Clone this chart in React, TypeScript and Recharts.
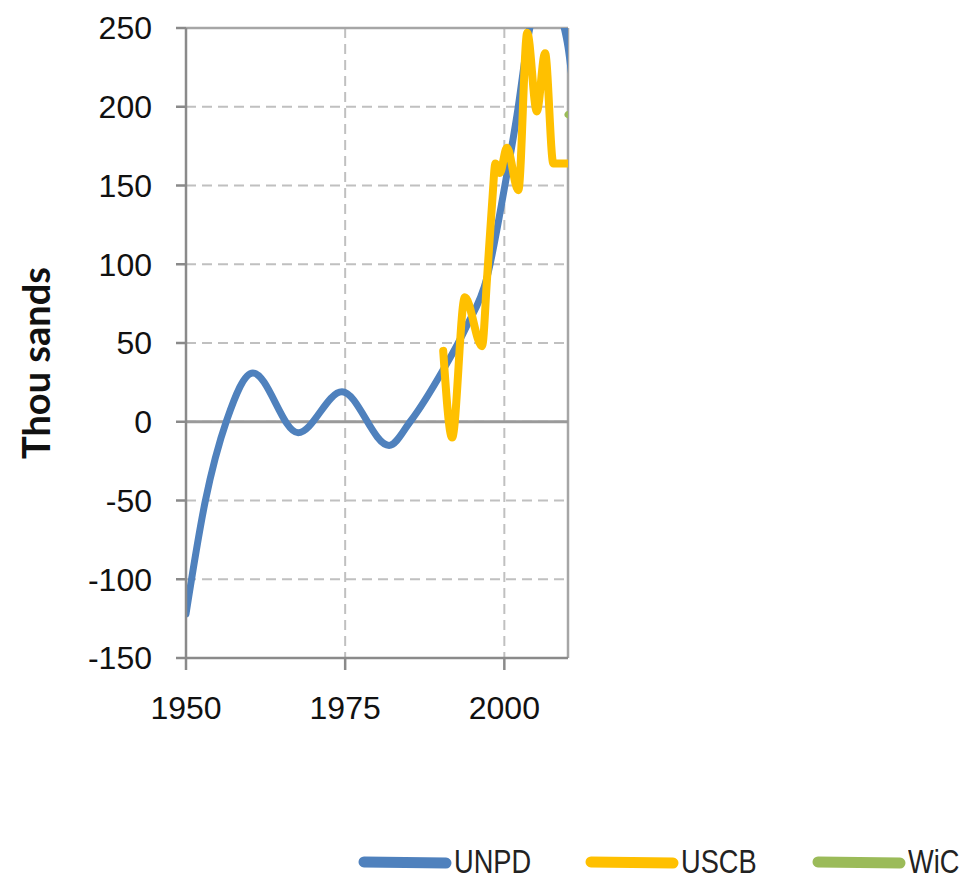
import { LineChart, Line, XAxis, YAxis, CartesianGrid, ReferenceLine } from 'recharts';

const unpdYears = [1950, 1953, 1956.4, 1960.5, 1967.6, 1974.5, 1981.9, 1985.2, 1990.4, 1994, 1997.3, 2000, 2002, 2004, 2006.6, 2009.3, 2010, 2011];
const unpdValues = [-122, -51, 1, 31, -7, 19, -15, 0, 33, 60, 92, 148, 195, 250, 280, 252, 238, 205];

const uscbYears = [1990.4, 1991.8, 1993.8, 1996.5, 1997.3, 1998.1, 1998.6, 1999.3, 2000.4, 2002.2, 2003.6, 2005.1, 2006.4, 2007.7, 2010];
const uscbValues = [45, -10, 79, 48, 92, 140, 164, 158, 174, 147, 247, 197, 234, 164, 164];

const wicYears = [2010, 2011];
const wicValues = [195, 193];

const xTicks = [1950, 1975, 2000];
const yTicks = [-150, -100, -50, 0, 50, 100, 150, 200, 250];

const series = [
  { key: 'UNPD', color: '#4F81BD', width: 7, years: unpdYears, values: unpdValues },
  { key: 'USCB', color: '#FFC000', width: 8, years: uscbYears, values: uscbValues },
  { key: 'WiC', color: '#9BBB59', width: 7, years: wicYears, values: wicValues },
];

const toRows = (years: number[], values: number[]) =>
  years.map((year, i) => ({ year, value: values[i] }));

const tickStyle = { fill: '#111', fontSize: 32, fontFamily: '"Liberation Sans", Arial, sans-serif' };

export default function App() {
  return (
    <div style={{ position: 'absolute', left: 0, top: 0, width: 974, height: 879, background: '#fff' }}>
      <LineChart width={974} height={879} margin={{ top: 28, right: 406, bottom: 161, left: 106 }}>
        <CartesianGrid stroke="#c0c0c0" strokeWidth={2} strokeDasharray="10 6" />
        <XAxis
          dataKey="year"
          type="number"
          domain={[1950, 2010]}
          ticks={xTicks}
          allowDataOverflow
          height={60}
          stroke="#8a8a8a"
          strokeWidth={2.5}
          tickSize={12}
          tickMargin={26}
          tick={tickStyle}
        />
        <YAxis
          type="number"
          domain={[-150, 250]}
          ticks={yTicks}
          allowDataOverflow
          width={80}
          stroke="#8a8a8a"
          strokeWidth={2.5}
          tickSize={10}
          tickMargin={24}
          tick={tickStyle}
          label={{
            content: () => (
              <text
                x={50}
                y={363}
                transform="rotate(-90 50 363)"
                textAnchor="middle"
                fill="#111"
                fontSize={38}
                fontWeight="bold"
                fontFamily="Lato, 'Open Sans', sans-serif"
              >
                Thou sands
              </text>
            ),
          }}
        />
        <ReferenceLine y={250} stroke="#a6a6a6" strokeWidth={2.5} />
        <ReferenceLine x={2010} stroke="#a6a6a6" strokeWidth={2.5} />
        <ReferenceLine y={0} stroke="#9a9a9a" strokeWidth={3} />
        {series.map((s) => (
          <Line
            key={s.key}
            data={toRows(s.years, s.values)}
            dataKey="value"
            name={s.key}
            type="monotone"
            stroke={s.color}
            strokeWidth={s.width}
            strokeLinecap="round"
            strokeLinejoin="round"
            dot={false}
            activeDot={false}
            isAnimationActive={false}
          />
        ))}
      </LineChart>
      <div style={{ position: 'absolute', top: 843, left: 358, width: 616, height: 37, overflow: 'hidden' }}>
        {series.map((s, i) => (
          <div
            key={s.key}
            style={{ position: 'absolute', left: i * 227, top: 0, display: 'flex', alignItems: 'center', height: 37 }}
          >
            <svg width={96} height={20} style={{ display: 'block' }}>
              <line x1={6} y1={10} x2={88} y2={11} stroke={s.color} strokeWidth={11} strokeLinecap="round" />
            </svg>
            <span
              style={{
                display: 'inline-block',
                fontFamily: '"Liberation Sans", Arial, sans-serif',
                fontSize: 34,
                color: '#222',
                lineHeight: '37px',
                transform: 'scaleX(0.8)',
                transformOrigin: 'left center',
                whiteSpace: 'nowrap',
              }}
            >
              {s.key}
            </span>
          </div>
        ))}
      </div>
    </div>
  );
}
